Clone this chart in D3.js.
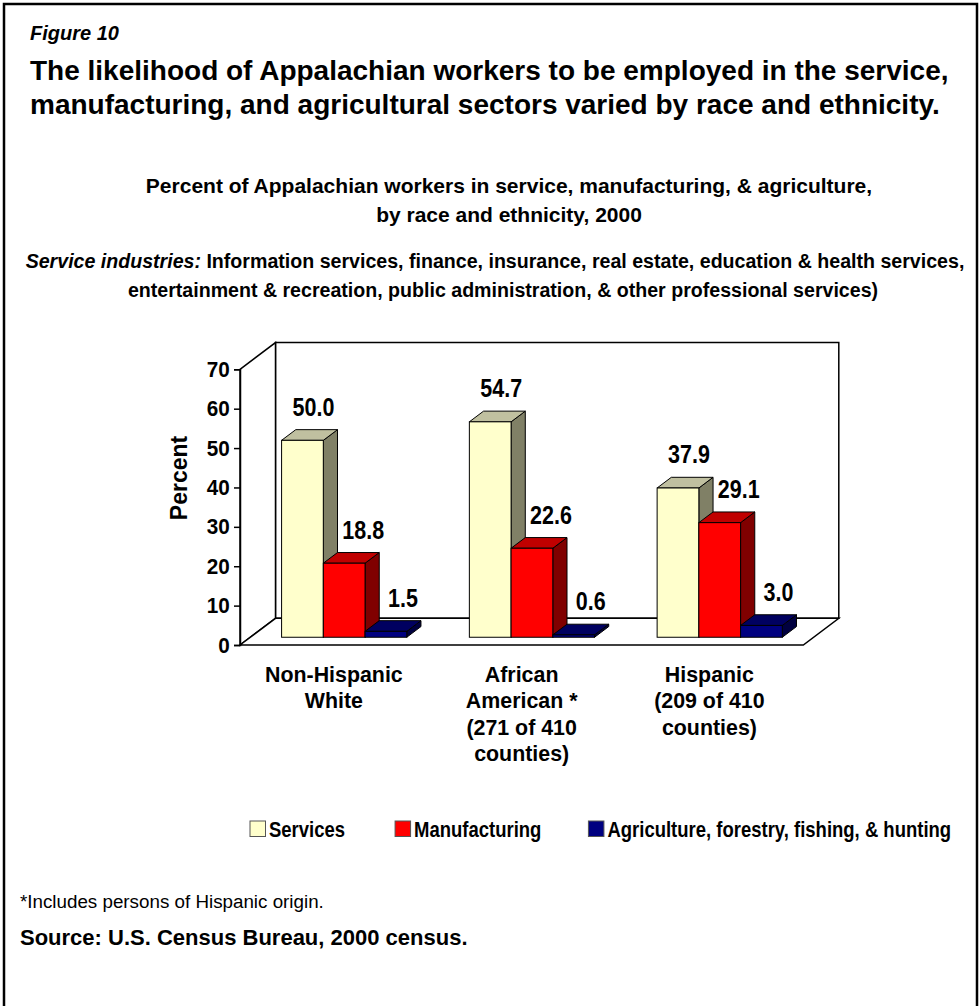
<!DOCTYPE html>
<html>
<head>
<meta charset="utf-8">
<script src="https://cdn.jsdelivr.net/npm/d3@7/dist/d3.min.js"></script>
<style>
  html, body { margin: 0; padding: 0; background: #fff; }
  svg { display: block; }
  text { font-family: "Liberation Sans", Arial, sans-serif; fill: #000; }
</style>
</head>
<body>
<svg id="chart" width="980" height="1006"></svg>
<script>
// ---------------- DATA ----------------
const categories = [
  ["Non-Hispanic", "White"],
  ["African", "American *", "(271 of 410", "counties)"],
  ["Hispanic", "(209 of 410", "counties)"]
];
const categoryKeys = ["Non-Hispanic White", "African American", "Hispanic"];
const seriesNames = ["Services", "Manufacturing", "Agriculture, forestry, fishing, & hunting"];
const services = [50.0, 54.7, 37.9];
const manufacturing = [18.8, 22.6, 29.1];
const agriculture = [1.5, 0.6, 3.0];
const yTicks = [0, 10, 20, 30, 40, 50, 60, 70];
const figureLabel = "Figure 10";
const titleLines = [
  "The likelihood of Appalachian workers to be employed in the service,",
  "manufacturing, and agricultural sectors varied by race and ethnicity."
];
const subtitleLines = [
  "Percent of Appalachian workers in service, manufacturing, & agriculture,",
  "by race and ethnicity, 2000"
];
const noteLead = "Service industries:";
const noteLines = [
  " Information services, finance, insurance, real estate, education & health services,",
  "entertainment & recreation, public administration, & other professional services)"
];
const yAxisTitle = "Percent";
const footnote = "*Includes persons of Hispanic origin.";
const sourceText = "Source: U.S. Census Bureau, 2000 census.";

// ---------------- STYLE ----------------
const faces = [
  { front: "#FFFFCC", top: "#C0C0A0", side: "#808066" },
  { front: "#FF0000", top: "#C00000", side: "#800000" },
  { front: "#000080", top: "#000060", side: "#000040" }
];
const seriesValues = [services, manufacturing, agriculture];

const svg = d3.select("#chart");

// outer frame
svg.append("path")
  .attr("d", "M4,1010 L4,4 L977,4 L977,1010")
  .attr("fill", "none").attr("stroke", "#000").attr("stroke-width", 2.5);

// horizontal condensing helper (keeps glyph height, narrows width)
function condense(sel, k, ax) {
  return sel.attr("transform", `translate(${ax},0) scale(${k},1) translate(${-ax},0)`);
}

// Figure label & title
svg.append("text").attr("x", 30).attr("y", 40)
  .attr("font-size", 20).attr("font-weight", "bold").attr("font-style", "italic")
  .text(figureLabel);
titleLines.forEach((t, i) => {
  svg.append("text").attr("x", 30).attr("y", 80 + i * 34)
    .attr("font-size", 28).attr("font-weight", "bold").text(t);
});

// Subtitle
subtitleLines.forEach((t, i) => {
  svg.append("text").attr("x", 509).attr("y", 193 + i * 29)
    .attr("text-anchor", "middle")
    .attr("font-size", 21).attr("font-weight", "bold").text(t);
});

// Service industries note
{
  const t1 = svg.append("text").attr("x", 495).attr("y", 268)
    .attr("text-anchor", "middle").attr("font-size", 19.6).attr("font-weight", "bold");
  t1.append("tspan").attr("font-style", "italic").text(noteLead);
  t1.append("tspan").text(noteLines[0]);
  svg.append("text").attr("x", 503).attr("y", 297)
    .attr("text-anchor", "middle").attr("font-size", 19.6).attr("font-weight", "bold")
    .text(noteLines[1]);
}

// ---------------- 3D CHART ----------------
const xLeft = 240, xRight = 803.3;
const dx = 35.5, dy = -26.7;       // full depth offset
const f0 = 0.29, f1 = 0.69;        // bar depth span (fraction of full depth)

const y = d3.scaleLinear().domain([0, 70]).range([645, 369.3]);
const x0 = d3.scaleBand().domain(categoryKeys).range([xLeft, xRight]).padding(0);
const bw = x0.bandwidth();
const x1 = d3.scaleBand().domain(seriesNames).range([bw / 6, bw * 5 / 6]).padding(0);

const g = svg.append("g");
const pt = p => p.map(q => q.join(",")).join(" ");

// back wall
g.append("polygon").attr("points", pt([
  [xLeft + dx, y(70) + dy], [xRight + dx, y(70) + dy],
  [xRight + dx, y(0) + dy], [xLeft + dx, y(0) + dy]
])).attr("fill", "#fff").attr("stroke", "#000").attr("stroke-width", 1.5);
// left wall
g.append("polygon").attr("points", pt([
  [xLeft, y(70)], [xLeft + dx, y(70) + dy], [xLeft + dx, y(0) + dy], [xLeft, y(0)]
])).attr("fill", "#fff").attr("stroke", "#000").attr("stroke-width", 1.5);
// floor
g.append("polygon").attr("points", pt([
  [xLeft, y(0)], [xRight, y(0)], [xRight + dx, y(0) + dy], [xLeft + dx, y(0) + dy]
])).attr("fill", "#fff").attr("stroke", "#000").attr("stroke-width", 1.5);

// y axis
const yAxis = d3.axisLeft(y).tickValues(yTicks).tickSize(6).tickPadding(5).tickFormat(d3.format("d"));
const ya = g.append("g").attr("transform", `translate(${xLeft},0)`).call(yAxis);
ya.select(".domain").attr("stroke", "#000").attr("stroke-width", 1.5);
ya.selectAll(".tick line").attr("stroke", "#000").attr("stroke-width", 1.5);
ya.selectAll(".tick text")
  .attr("font-family", "'Liberation Sans', Arial, sans-serif")
  .attr("font-size", 22).attr("font-weight", "bold").attr("fill", "#000")
  .attr("transform", "scale(0.94,1)");

// y title
g.append("text")
  .attr("transform", `translate(187,478) rotate(-90)`)
  .attr("text-anchor", "middle").attr("font-size", 23).attr("font-weight", "bold")
  .text(yAxisTitle);

// bars
const bdx0 = f0 * dx, bdy0 = f0 * dy;
const bdx = (f1 - f0) * dx, bdy = (f1 - f0) * dy;
const labelOffsetX = [11, 19, 17];

categoryKeys.forEach((cat, ci) => {
  seriesNames.forEach((s, si) => {
    const v = seriesValues[si][ci];
    const xl = x0(cat) + x1(s) + bdx0;
    const xr = xl + x1.bandwidth();
    const yb = y(0) + bdy0;
    const yt = y(v) + bdy0;
    const c = faces[si];
    const bg = g.append("g");
    bg.append("polygon").attr("points", pt([
      [xr, yt], [xr + bdx, yt + bdy], [xr + bdx, yb + bdy], [xr, yb]
    ])).attr("fill", c.side).attr("stroke", "#000").attr("stroke-width", 1).attr("stroke-linejoin", "round");
    bg.append("polygon").attr("points", pt([
      [xl, yt], [xl + bdx, yt + bdy], [xr + bdx, yt + bdy], [xr, yt]
    ])).attr("fill", c.top).attr("stroke", "#000").attr("stroke-width", 1).attr("stroke-linejoin", "round");
    bg.append("rect").attr("x", xl).attr("y", yt)
      .attr("width", xr - xl).attr("height", yb - yt)
      .attr("fill", c.front).attr("stroke", "#000").attr("stroke-width", 1);
  });
});

// value labels
categoryKeys.forEach((cat, ci) => {
  seriesNames.forEach((s, si) => {
    const v = seriesValues[si][ci];
    const xc = x0(cat) + x1(s) + bdx0 + x1.bandwidth() / 2 + labelOffsetX[si];
    const yl = y(v) + bdy0 + bdy - 14;
    condense(g.append("text").attr("x", xc).attr("y", yl)
      .attr("text-anchor", "middle").attr("font-size", 25).attr("font-weight", "bold")
      .text(d3.format(".1f")(v)), 0.86, xc);
  });
});

// category labels
categoryKeys.forEach((cat, ci) => {
  const cx = x0(cat) + bw / 2;
  const t = g.append("text").attr("text-anchor", "middle")
    .attr("font-size", 23).attr("font-weight", "bold");
  categories[ci].forEach((line, li) => {
    t.append("tspan").attr("x", cx).attr("y", 682 + li * 26.5).text(line);
  });
  condense(t, 0.93, cx);
});

// legend (laid out sequentially from measured text widths)
{
  const lg = svg.append("g");
  const gaps = [50, 47];
  const k = 0.86;
  let cx = 250;
  seriesNames.forEach((s, si) => {
    lg.append("rect").attr("x", cx).attr("y", 821)
      .attr("width", 15.5).attr("height", 15.5)
      .attr("fill", faces[si].front).attr("stroke", "#555").attr("stroke-width", 1);
    const tx = cx + 19;
    const t = lg.append("text").attr("x", tx).attr("y", 837)
      .attr("font-size", 21.5).attr("font-weight", "bold").text(s);
    condense(t, k, tx);
    cx = tx + t.node().getComputedTextLength() * k + (gaps[si] || 0);
  });
}

// footnote & source
svg.append("text").attr("x", 20).attr("y", 908).attr("font-size", 18.8).text(footnote);
svg.append("text").attr("x", 20).attr("y", 945).attr("font-size", 22).attr("font-weight", "bold").text(sourceText);
</script>
</body>
</html>
